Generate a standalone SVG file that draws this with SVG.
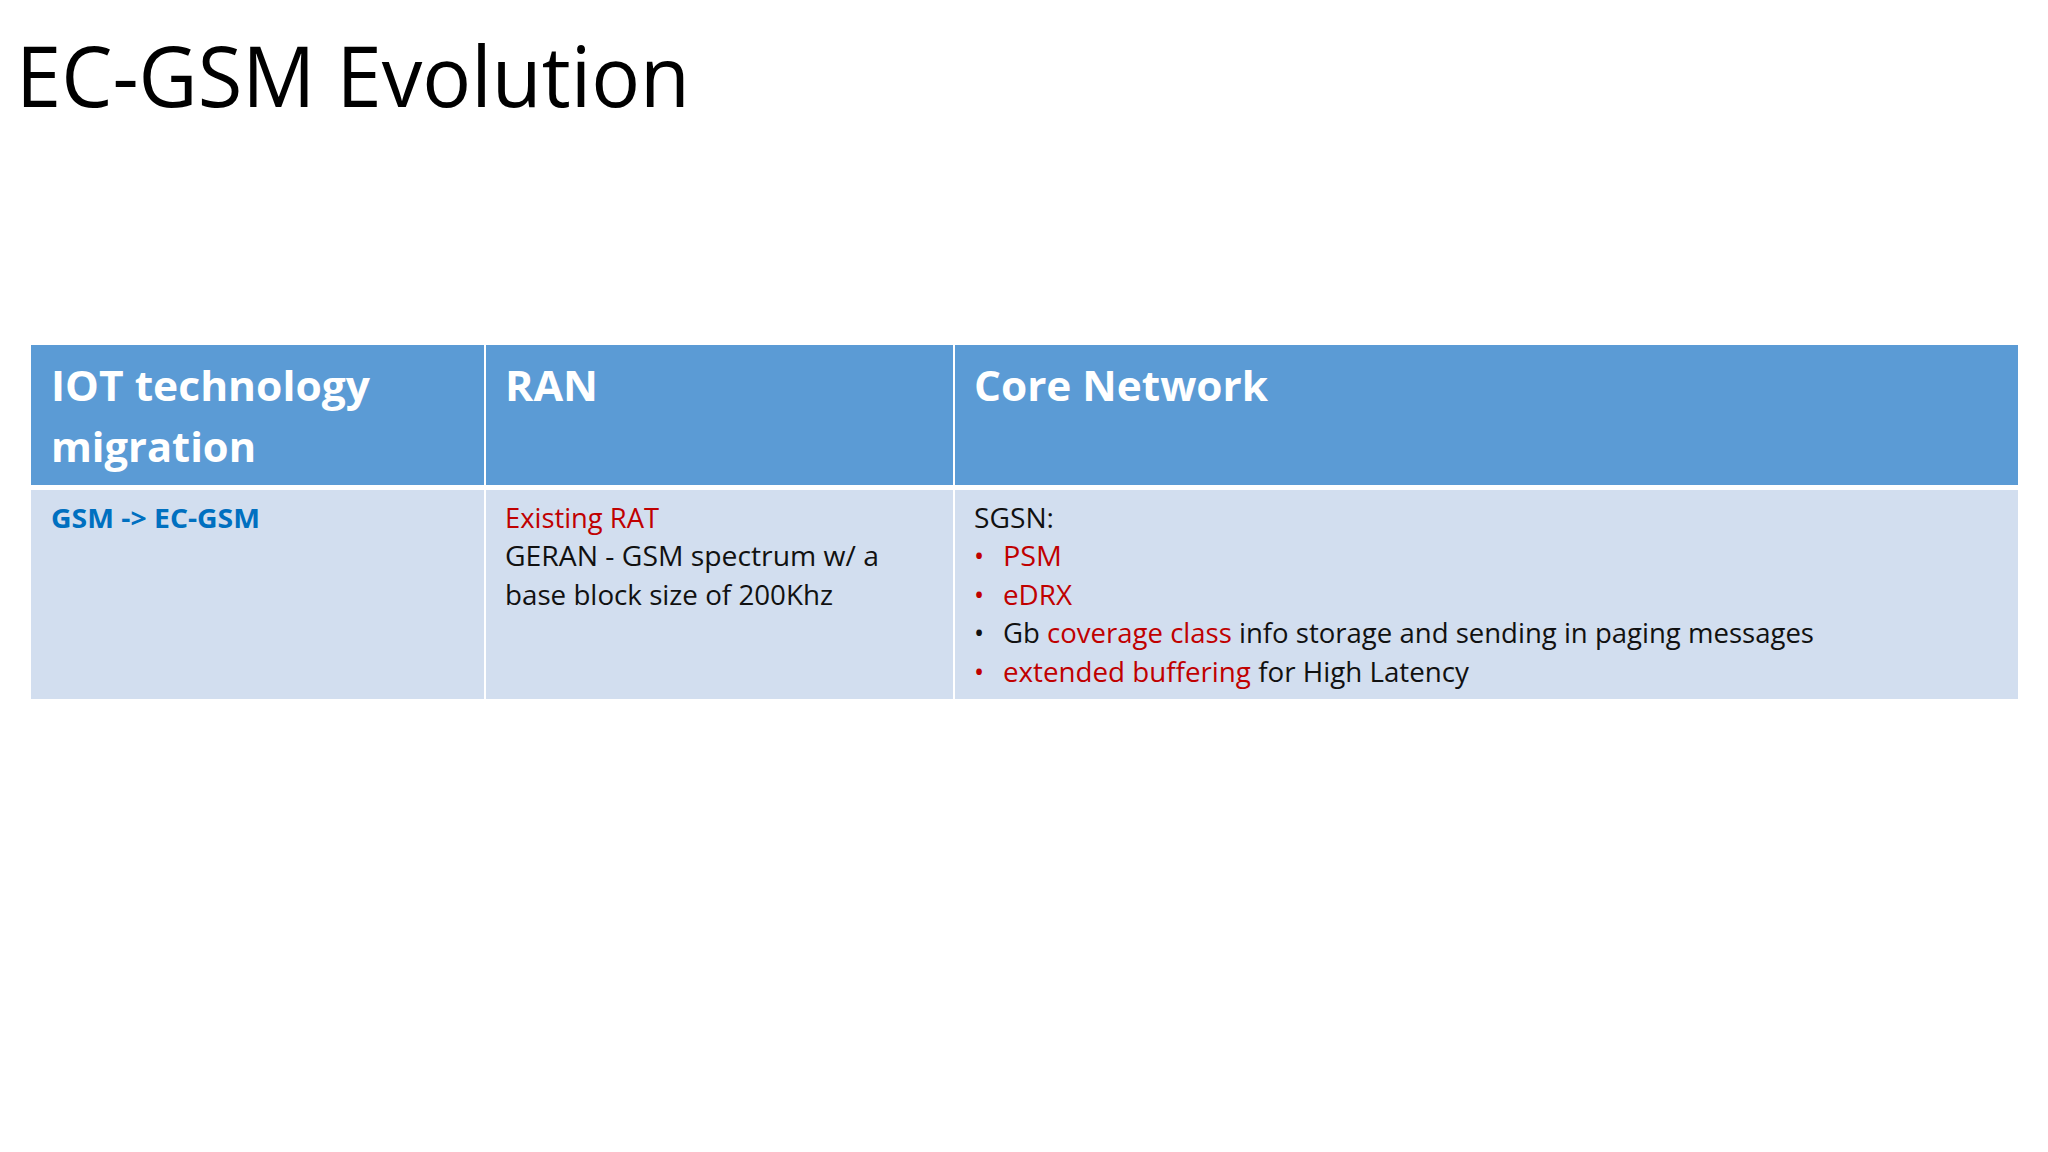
<svg xmlns="http://www.w3.org/2000/svg" width="2048" height="1152" viewBox="0 0 2048 1152">
<style>
text{font-family:"Open Sans","Liberation Sans",sans-serif}
.h{fill:#fff;font-weight:bold;font-size:42px}
.b{fill:#111;font-size:27px}
.r{fill:#C00000}
</style>
<rect width="2048" height="1152" fill="#fff"/>
<text x="16" y="107" font-size="84" fill="#000" textLength="674" lengthAdjust="spacingAndGlyphs">EC-GSM Evolution</text>
<g id="table">
<rect x="31" y="345" width="1987" height="140" fill="#5B9BD5"/>
<rect x="31" y="490" width="1987" height="209" fill="#D2DEEF"/>
<rect x="31" y="485" width="1987" height="5" fill="#fff"/>
<rect x="484" y="345" width="2" height="354" fill="#fff"/>
<rect x="953" y="345" width="2" height="354" fill="#fff"/>
</g>
<g id="header">
<text class="h" x="51" y="401" textLength="319" lengthAdjust="spacingAndGlyphs">IOT technology</text>
<text class="h" x="51" y="462" textLength="205" lengthAdjust="spacingAndGlyphs">migration</text>
<text class="h" x="505" y="401" textLength="93" lengthAdjust="spacingAndGlyphs">RAN</text>
<text class="h" x="974" y="401" textLength="294" lengthAdjust="spacingAndGlyphs">Core Network</text>
</g>
<g id="row">
<text class="b" x="51" y="528" fill="#0070C0" style="fill:#0070C0;font-weight:bold" textLength="209" lengthAdjust="spacingAndGlyphs">GSM -&gt; EC-GSM</text>
<text class="b r" x="505" y="528" style="fill:#C00000" textLength="154" lengthAdjust="spacingAndGlyphs">Existing RAT</text>
<text class="b" x="505" y="566" textLength="374" lengthAdjust="spacingAndGlyphs">GERAN - GSM spectrum w/ a</text>
<text class="b" x="505" y="605" textLength="328" lengthAdjust="spacingAndGlyphs">base block size of 200Khz</text>
<text class="b" x="974" y="528" textLength="80" lengthAdjust="spacingAndGlyphs">SGSN:</text>
<text class="b" x="974" y="566" style="fill:#C00000">•</text>
<text class="b" x="1003" y="566" style="fill:#C00000" textLength="59" lengthAdjust="spacingAndGlyphs">PSM</text>
<text class="b" x="974" y="605" style="fill:#C00000">•</text>
<text class="b" x="1003" y="605" style="fill:#C00000" textLength="69" lengthAdjust="spacingAndGlyphs">eDRX</text>
<text class="b" x="974" y="643">•</text>
<text class="b" x="1003" y="643" textLength="811" lengthAdjust="spacingAndGlyphs">Gb <tspan class="r">coverage class</tspan> info storage and sending in paging messages</text>
<text class="b" x="974" y="682" style="fill:#C00000">•</text>
<text class="b" x="1003" y="682" textLength="466" lengthAdjust="spacingAndGlyphs"><tspan class="r">extended buffering</tspan> for High Latency</text>
</g>
</svg>
